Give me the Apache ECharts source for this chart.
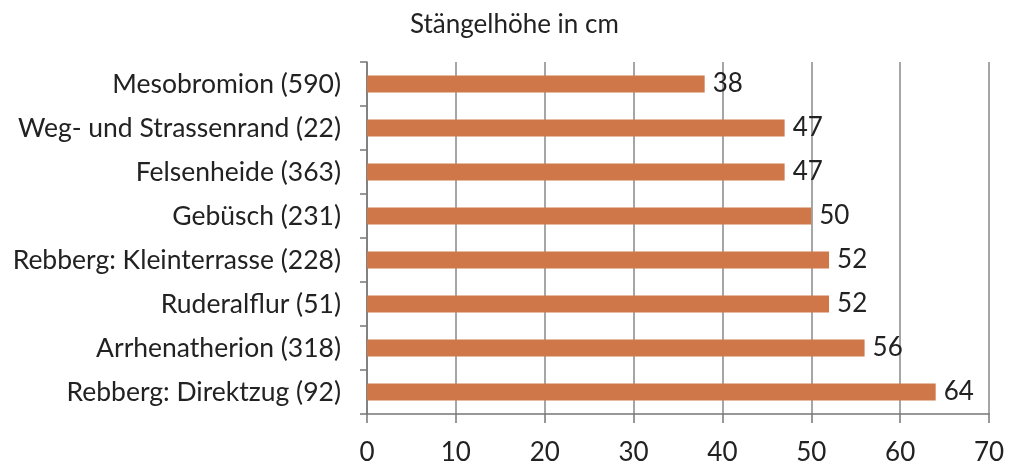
<!DOCTYPE html>
<html>
<head>
<meta charset="utf-8">
<script src="https://cdn.jsdelivr.net/npm/echarts@6/dist/echarts.min.js"></script>
<style>
  html, body { margin: 0; padding: 0; background: #fff; }
  #chart { width: 1021px; height: 461px; }
</style>
</head>
<body>
<div id="chart"></div>
<script>
// Kategorien von oben nach unten
const categories = [
  'Mesobromion (590)',
  'Weg- und Strassenrand (22)',
  'Felsenheide (363)',
  'Gebüsch (231)',
  'Rebberg: Kleinterrasse (228)',
  'Ruderalflur (51)',
  'Arrhenatherion (318)',
  'Rebberg: Direktzug (92)'
]
const heights = [38, 47, 47, 50, 52, 52, 56, 64]
const xTicks = [0, 10, 20, 30, 40, 50, 60, 70]

const font = 'Lato, "Open Sans", sans-serif'
const chart = echarts.init(document.getElementById('chart'))

chart.setOption({
  animation: false,
  title: {
    text: 'Stängelhöhe in cm',
    left: 405,
    top: 7,
    textStyle: { fontFamily: font, fontSize: 26, fontWeight: 'normal', color: '#222' }
  },
  grid: { left: 367, right: 32, top: 62, bottom: 47, outerBoundsMode: 'none' },
  xAxis: {
    type: 'value',
    min: xTicks[0],
    max: xTicks[xTicks.length - 1],
    interval: 10,
    axisLine: { show: true, lineStyle: { color: '#777', width: 1.5 } },
    axisTick: { show: true, length: 9, lineStyle: { color: '#777', width: 1.5 } },
    splitLine: { show: true, lineStyle: { color: '#888', width: 1.5 } },
    axisLabel: { fontFamily: font, fontSize: 26, color: '#222', margin: 26 }
  },
  yAxis: {
    type: 'category',
    inverse: true,
    data: categories,
    axisLine: { show: true, lineStyle: { color: '#777', width: 1.5 } },
    axisTick: { show: true, length: 7, lineStyle: { color: '#777', width: 1.5 } },
    axisLabel: { fontFamily: font, fontSize: 26.5, color: '#222', margin: 26 }
  },
  series: [{
    type: 'bar',
    data: heights,
    barWidth: 17,
    itemStyle: { color: '#d0774a' },
    label: {
      show: true,
      position: 'right',
      distance: 8,
      fontFamily: font,
      fontSize: 26,
      color: '#222'
    }
  }]
})
</script>
</body>
</html>
